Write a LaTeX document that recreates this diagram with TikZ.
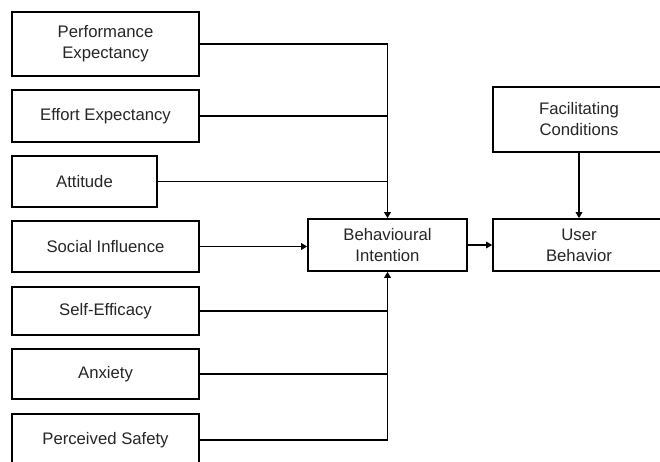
\documentclass[tikz,border=0pt]{standalone}
\usepackage{fontspec}
\setmainfont{Liberation Sans}
\usetikzlibrary{arrows.meta}
\begin{document}
\begin{tikzpicture}[x=1pt,y=-1pt,
  box/.style={draw=black, line width=1.6pt, fill=white, inner sep=0pt,
    align=center, text=black!85, font=\fontsize{16.7}{21}\selectfont},
  link/.style={line width=1.6pt, draw=black},
  arr/.style={link, -{Triangle[length=6pt,width=6.5pt]}}]
  \useasboundingbox (0,0) rectangle (660,461);
  \fill[white] (0,0) rectangle (660,461);
  \clip (0,0) rectangle (660,461);

  % predictor constructs
  \node[box, minimum width=187pt, minimum height=64pt] (pe)  at (105.5,44)  {Performance\\Expectancy};
  \node[box, minimum width=187pt, minimum height=52pt] (ee)  at (105.5,116) {Effort Expectancy};
  \node[box, minimum width=145pt, minimum height=51pt] (att) at (84.5,181.5) {Attitude};
  \node[box, minimum width=187pt, minimum height=51pt] (si)  at (105.5,246.5) {Social Influence};
  \node[box, minimum width=187pt, minimum height=48pt] (se)  at (105.5,311) {Self-Efficacy};
  \node[box, minimum width=187pt, minimum height=50pt] (anx) at (105.5,374) {Anxiety};
  \node[box, minimum width=187pt, minimum height=52pt] (ps)  at (105.5,440) {Perceived Safety};

  % intention and behaviour
  \node[box, minimum width=159pt, minimum height=52pt] (bi) at (387.5,245) {Behavioural\\Intention};
  \node[box, minimum width=172pt, minimum height=65pt] (fc) at (579,119.5) {Facilitating\\Conditions};
  \node[box, minimum width=172pt, minimum height=52pt] (ub) at (579,245) {User\\Behavior};

  % upper predictors join a common line into the top of the intention box
  \draw[arr] (pe.east) -| (bi.north);
  \draw[link] (ee.east) -- (ee.east -| bi.north);
  \draw[link] (att.east) -- (att.east -| bi.north);

  % social influence feeds straight in
  \draw[arr] (si.east) -- (si.east -| bi.west);

  % lower predictors join a common line into the bottom of the intention box
  \draw[arr] (ps.east) -| (bi.south);
  \draw[link] (se.east) -- (se.east -| bi.south);
  \draw[link] (anx.east) -- (anx.east -| bi.south);

  % intention and conditions drive behaviour
  \draw[arr] (bi.east) -- (ub.west);
  \draw[arr] (fc.south) -- (ub.north);
\end{tikzpicture}
\end{document}
